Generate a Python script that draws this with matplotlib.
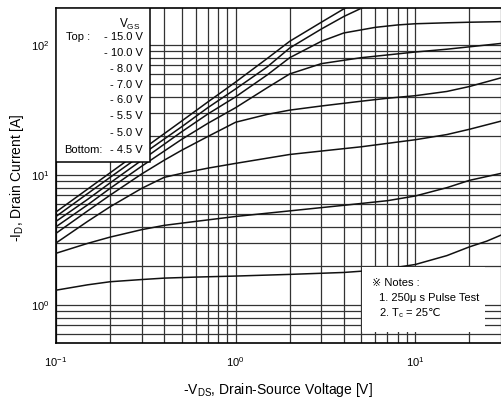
import matplotlib.pyplot as plt
from matplotlib.patches import Rectangle
from matplotlib.ticker import NullFormatter

plt.rcParams['font.family'] = ['Liberation Sans', 'DejaVu Sans', 'Noto Sans CJK JP']

# output curves, -VDS [V] vs -ID [A]
v_15 = [0.1, 0.15, 0.2, 0.3, 0.5, 0.7, 1.0, 1.5, 2.0, 3.0, 4.0, 5.0]
i_15 = [5.2, 7.8, 10.4, 15.6, 26, 36.5, 52, 79, 107, 150, 190, 222]

v_10 = [0.1, 0.15, 0.2, 0.3, 0.5, 0.7, 1.0, 1.5, 2.0, 3.0, 4.0, 5.0, 6.0]
i_10 = [4.8, 7.2, 9.6, 14.3, 23.5, 33, 46, 68, 95, 133, 166, 192, 215]

v_8 = [0.1, 0.15, 0.2, 0.3, 0.5, 0.7, 1.0, 1.5, 2.0, 3.0, 4.0, 6.0, 8.0, 10, 15, 20, 30]
i_8 = [4.4, 6.5, 8.7, 13, 21.5, 29.5, 40, 59, 80, 107, 124, 137, 143, 146, 148.5, 150, 151.5]

v_7 = [0.1, 0.15, 0.2, 0.3, 0.5, 0.7, 1.0, 1.5, 2.0, 3.0, 5.0, 7.0, 10, 15, 20, 30]
i_7 = [4.0, 5.9, 7.9, 11.7, 18.8, 25, 33, 47, 60, 72, 80, 84, 88.5, 93, 97, 103]

v_6 = [0.1, 0.15, 0.2, 0.3, 0.4, 0.5, 0.7, 1.0, 1.5, 2.0, 3.0, 5.0, 7.0, 10, 15, 20, 30]
i_6 = [3.56, 5.3, 7.0, 10.2, 13.0, 15.5, 19.8, 25.5, 29.3, 31.6, 34, 37, 39, 40.8, 44, 48, 56]

v_55 = [0.1, 0.15, 0.2, 0.3, 0.4, 0.5, 0.7, 1.0, 2.0, 3.0, 5.0, 10, 15, 20, 30]
i_55 = [3.0, 4.4, 5.7, 7.9, 9.6, 10.3, 11.3, 12.3, 14.4, 15.3, 16.5, 18.7, 20.5, 22.5, 26]

v_5 = [0.1, 0.15, 0.2, 0.3, 0.4, 0.6, 1.0, 2.0, 4.0, 7.0, 10, 15, 20, 30]
i_5 = [2.5, 2.98, 3.33, 3.8, 4.1, 4.4, 4.8, 5.3, 5.85, 6.35, 6.9, 8.0, 9.1, 10.3]

v_45 = [0.1, 0.15, 0.2, 0.3, 0.4, 0.6, 1.0, 2.0, 4.0, 5.0, 7.0, 10, 15, 20, 25, 30]
i_45 = [1.3, 1.43, 1.51, 1.57, 1.61, 1.64, 1.67, 1.72, 1.78, 1.82, 1.9, 2.05, 2.4, 2.8, 3.1, 3.45]

curves = [(v_15, i_15), (v_10, i_10), (v_8, i_8), (v_7, i_7),
          (v_6, i_6), (v_55, i_55), (v_5, i_5), (v_45, i_45)]

vgs_labels = ['- 15.0 V', '- 10.0 V', '- 8.0 V', '- 7.0 V',
              '- 6.0 V', '- 5.5 V', '- 5.0 V', '- 4.5 V']

fig = plt.figure(figsize=(5.01, 4.03), dpi=100)
ax = fig.add_axes([56 / 501, 60 / 403, 445 / 501, 335 / 403])

for v, i in curves:
    ax.plot(v, i, color='#111111', lw=1.1, zorder=3)

ax.set_xscale('log')
ax.set_yscale('log')
ax.set_xlim(0.1, 30)
ax.set_ylim(0.51, 193)

ax.grid(True, which='both', color='#333333', lw=0.9)
ax.xaxis.set_minor_formatter(NullFormatter())
ax.yaxis.set_minor_formatter(NullFormatter())
ax.tick_params(which='both', length=0, labelsize=8)
ax.tick_params(axis='x', pad=9)
ax.tick_params(axis='y', pad=5)
for s in ax.spines.values():
    s.set_linewidth(1.2)
ax.spines['right'].set_visible(False)

# legend box (top left)
ax.add_patch(Rectangle((0, 0.540), 0.211, 0.460, transform=ax.transAxes,
                       facecolor='white', edgecolor='black', lw=1.1, zorder=5))
ax.text(0.191, 0.952, r'$\mathregular{V_{GS}}$', transform=ax.transAxes,
        ha='right', va='center', fontsize=8.5, zorder=6)
ys = [0.913, 0.867, 0.817, 0.770, 0.725, 0.678, 0.626, 0.576]
for y, lab in zip(ys, vgs_labels):
    ax.text(0.1955, y, lab, transform=ax.transAxes, ha='right', va='center',
            fontsize=8, zorder=6)
ax.text(0.022, ys[0], 'Top :', transform=ax.transAxes, ha='left', va='center',
        fontsize=8, zorder=6)
ax.text(0.018, ys[-1], 'Bottom:', transform=ax.transAxes, ha='left', va='center',
        fontsize=8, zorder=6)

# notes (bottom right)
ax.add_patch(Rectangle((0.688, 0.033), 0.276, 0.195, transform=ax.transAxes,
                       facecolor='white', edgecolor='none', zorder=5))
ax.text(0.710, 0.179, '※ Notes :', transform=ax.transAxes, ha='left', va='center',
        fontsize=8, zorder=6)
ax.text(0.726, 0.134, '1. 250μ s Pulse Test', transform=ax.transAxes, ha='left',
        va='center', fontsize=8, zorder=6)
ax.text(0.726, 0.090, r'2. $\mathregular{T_c}$', transform=ax.transAxes,
        ha='left', va='center', fontsize=8, zorder=6)
ax.text(0.787, 0.090, '= 25℃', transform=ax.transAxes,
        ha='left', va='center', fontsize=8, zorder=6)

fig.text(0.555, 0.032, r'-$\mathregular{V_{DS}}$, Drain-Source Voltage [V]',
         ha='center', va='center', fontsize=10)
fig.text(0.034, 0.558, r'-$\mathregular{I_D}$, Drain Current [A]',
         ha='center', va='center', rotation=90, fontsize=10)

fig.savefig('out.png', dpi=100)
